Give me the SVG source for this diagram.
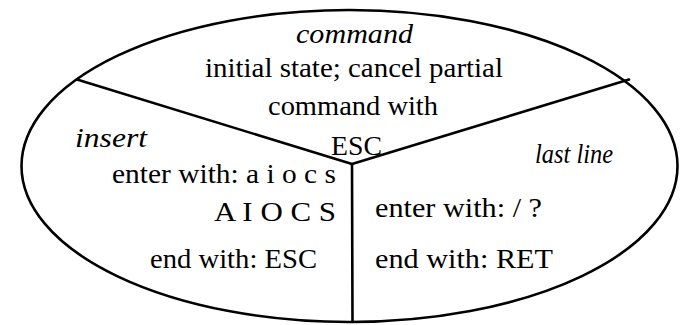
<svg xmlns="http://www.w3.org/2000/svg" width="683" height="325" viewBox="0 0 683 325">
<style>
.t{font-family:"Liberation Serif","Times New Roman",serif;font-size:27px;fill:#000}
.i{font-style:italic}
.ln{stroke:#000;stroke-width:2.6;fill:none;stroke-linecap:round;stroke-linejoin:round}
</style>
<rect width="683" height="325" fill="#fff"/>
<ellipse class="ln" cx="349.5" cy="166" rx="328" ry="156"/>
<g id="connectors">
<polyline class="ln" points="77,79.5 352,164 629,79.5"/>
<line class="ln" x1="352" y1="164" x2="352.5" y2="321"/>
</g>
<g id="command">
<text class="t i" x="296" y="43" textLength="117" lengthAdjust="spacingAndGlyphs">command</text>
<text class="t" x="205" y="77" textLength="298" lengthAdjust="spacingAndGlyphs">initial state; cancel partial</text>
<text class="t" x="268" y="115" textLength="170" lengthAdjust="spacingAndGlyphs">command with</text>
<text class="t" x="331" y="155" textLength="51" lengthAdjust="spacingAndGlyphs">ESC</text>
</g>
<g id="insert">
<text class="t i" x="75" y="147" textLength="72" lengthAdjust="spacingAndGlyphs">insert</text>
<text class="t" x="112" y="183" textLength="224" lengthAdjust="spacingAndGlyphs">enter with: a i o c s</text>
<text class="t" x="214" y="221" textLength="122" lengthAdjust="spacingAndGlyphs">A I O C S</text>
<text class="t" x="150" y="268" textLength="167" lengthAdjust="spacingAndGlyphs">end with: ESC</text>
</g>
<g id="last-line">
<text class="t i" x="535" y="163" textLength="78" lengthAdjust="spacingAndGlyphs">last line</text>
<text class="t" x="375" y="217" textLength="167" lengthAdjust="spacingAndGlyphs">enter with:  / ?</text>
<text class="t" x="375" y="268" textLength="178" lengthAdjust="spacingAndGlyphs">end with:  RET</text>
</g>
</svg>
